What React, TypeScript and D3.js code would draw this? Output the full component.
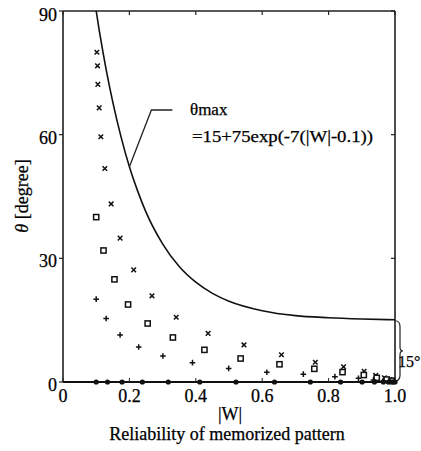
import * as d3 from "d3";

// theta_max curve (|W|, degree)
const curveW = [0.1, 0.11, 0.12, 0.13, 0.15, 0.175, 0.2, 0.225, 0.25, 0.3, 0.35, 0.4, 0.45, 0.5, 0.6, 0.7, 0.8, 0.9, 1.0];
const curveT = [90, 84.9, 80.2, 75.8, 67.9, 59.4, 52.2, 46.3, 41.2, 33.5, 28.0, 24.2, 21.5, 19.6, 17.3, 16.1, 15.6, 15.3, 15.1];

// cross markers
const crossW = [0.102, 0.104, 0.105, 0.109, 0.114, 0.126, 0.145, 0.172, 0.213, 0.268, 0.341, 0.437, 0.545, 0.658, 0.76, 0.845, 0.907, 0.942, 0.968, 0.985];
const crossT = [80.0, 76.7, 72.2, 66.5, 59.5, 51.8, 43.2, 34.9, 27.2, 20.9, 15.7, 11.8, 9.0, 6.6, 4.8, 3.7, 2.6, 1.6, 1.0, 0.6];

// square markers
const squareW = [0.1, 0.122, 0.155, 0.196, 0.255, 0.331, 0.426, 0.535, 0.652, 0.757, 0.842, 0.906, 0.945, 0.975, 0.99];
const squareT = [40.0, 31.9, 24.9, 18.8, 14.2, 10.8, 7.8, 5.7, 4.3, 3.2, 2.4, 1.7, 1.0, 0.6, 0.3];

// plus markers
const plusW = [0.1, 0.13, 0.172, 0.228, 0.301, 0.39, 0.499, 0.614, 0.724, 0.819, 0.89, 0.935, 0.965, 0.985];
const plusT = [20.1, 15.4, 11.4, 8.5, 6.3, 4.7, 3.3, 2.35, 1.9, 1.3, 0.9, 0.5, 0.3, 0.15];

// dots, all on theta = 0
const dotW = [0.1, 0.134, 0.178, 0.239, 0.317, 0.412, 0.521, 0.637, 0.745, 0.836, 0.901, 0.938, 0.965, 0.98, 0.99, 0.995, 1.0];
const dotT = dotW.map(() => 0);

const xTicks = [0, 0.2, 0.4, 0.6, 0.8, 1.0];
const xTickLabels = ["0", "0.2", "0.4", "0.6", "0.8", "1.0"];
const yTicks = [0, 30, 60, 90];
const yTickLabels = ["0", "30", "60", "90"];

const font = "Liberation Serif, DejaVu Serif, serif";

export default function App() {
  const x = d3.scaleLinear().domain([0, 1]).range([63, 395]);
  const y = d3.scaleLinear().domain([0, 90]).range([382, 11]);

  const line = d3
    .line<number>()
    .x((_, i) => x(curveW[i]))
    .y((d) => y(d))
    .curve(d3.curveMonotoneX);

  // leader line anchored on the curve at |W| = 0.2
  const ax = x(curveW[6]);
  const ay = y(curveT[6]);

  // brace between curve end and zero
  const bTop = y(curveT[curveT.length - 1]);
  const bBot = y(0);
  const bMid = (bTop + bBot) / 2;
  const bx = x(1);
  const brace = `M${bx},${bTop + 1} Q${bx + 5},${bTop + 1} ${bx + 5},${bTop + 7} L${bx + 5},${bMid - 4} Q${bx + 5},${bMid} ${bx + 8},${bMid} Q${bx + 5},${bMid} ${bx + 5},${bMid + 4} L${bx + 5},${bBot - 7} Q${bx + 5},${bBot - 1} ${bx},${bBot - 1}`;

  const sz = 2.3;
  const ink = { fill: "#000", stroke: "#000", strokeWidth: 0.25 };

  return (
    <svg width={421} height={451} style={{ position: "absolute", left: 0, top: 0, background: "#fff", fontFamily: font }}>
      {/* frame */}
      <line x1={x(0)} x2={x(1)} y1={y(90)} y2={y(90)} stroke="#222" strokeWidth={1.3} />
      <line x1={x(0)} x2={x(0)} y1={y(90)} y2={y(0)} stroke="#111" strokeWidth={1.5} />
      <line x1={x(1)} x2={x(1)} y1={y(90)} y2={y(0)} stroke="#111" strokeWidth={1.5} />
      <line x1={x(0)} x2={x(1)} y1={y(0)} y2={y(0)} stroke="#111" strokeWidth={2} />

      {/* ticks */}
      {xTicks.map((t) => (
        <g key={"xt" + t}>
          <line x1={x(t)} x2={x(t)} y1={y(90)} y2={y(90) + 4} stroke="#222" strokeWidth={1.2} />
          <line x1={x(t)} x2={x(t)} y1={y(0)} y2={y(0) - 4} stroke="#222" strokeWidth={1} />
        </g>
      ))}
      {yTicks.map((t) => (
        <g key={"yt" + t}>
          <line x1={x(0) - 4} x2={x(0)} y1={y(t)} y2={y(t)} stroke="#222" strokeWidth={1.2} />
          <line x1={x(1) - 4} x2={x(1)} y1={y(t)} y2={y(t)} stroke="#222" strokeWidth={1.2} />
        </g>
      ))}

      {/* tick labels */}
      {xTicks.map((t, i) => (
        <text key={"xl" + t} x={x(t)} y={402} fontSize={18} textAnchor="middle" {...ink}>
          {xTickLabels[i]}
        </text>
      ))}
      {yTicks.map((t, i) => (
        <text key={"yl" + t} x={57} y={y(t) + (t === 90 ? 4 : 3)} fontSize={18} textAnchor="end" dominantBaseline="central" {...ink}>
          {yTickLabels[i]}
        </text>
      ))}

      {/* axis titles */}
      <text x={230} y={420} fontSize={18} textAnchor="middle" {...ink}>|W|</text>
      <text x={227} y={440} fontSize={18} textAnchor="middle" {...ink}>Reliability of memorized pattern</text>
      <text transform="translate(22,196) rotate(-90)" fontSize={18} textAnchor="middle" dominantBaseline="central" {...ink}>
        <tspan fontStyle="italic">θ</tspan> [degree]
      </text>

      {/* theta max curve */}
      <path d={line(curveT) || ""} fill="none" stroke="#111" strokeWidth={1.6} />

      {/* annotation */}
      <polyline points={`${ax},${ay} ${ax + 22},110 ${ax + 43},110`} fill="none" stroke="#222" strokeWidth={1.3} />
      <text x={190} y={115} fontSize={17} {...ink}>θmax</text>
      <text x={192} y={142} fontSize={16} textLength={181} lengthAdjust="spacingAndGlyphs" {...ink}>=15+75exp(-7(|W|-0.1))</text>

      {/* brace and 15 degree label */}
      <path d={brace} fill="none" stroke="#222" strokeWidth={1.2} />
      <text x={398} y={367} fontSize={16} {...ink}>15°</text>

      {/* markers */}
      {crossW.map((w, i) => (
        <path key={"c" + i} d={`M${x(w) - sz},${y(crossT[i]) - sz}L${x(w) + sz},${y(crossT[i]) + sz}M${x(w) + sz},${y(crossT[i]) - sz}L${x(w) - sz},${y(crossT[i]) + sz}`} stroke="#111" strokeWidth={1.5} />
      ))}
      {squareW.map((w, i) => (
        <rect key={"s" + i} x={x(w) - 2.6} y={y(squareT[i]) - 2.6} width={5.2} height={5.2} fill="#fff" stroke="#111" strokeWidth={1.5} />
      ))}
      {plusW.map((w, i) => (
        <path key={"p" + i} d={`M${x(w) - 2.8},${y(plusT[i])}L${x(w) + 2.8},${y(plusT[i])}M${x(w)},${y(plusT[i]) - 2.8}L${x(w)},${y(plusT[i]) + 2.8}`} stroke="#111" strokeWidth={1.5} />
      ))}
      {dotW.map((w, i) => (
        <circle key={"d" + i} cx={x(w)} cy={y(dotT[i])} r={2.6} fill="#111" />
      ))}
    </svg>
  );
}
